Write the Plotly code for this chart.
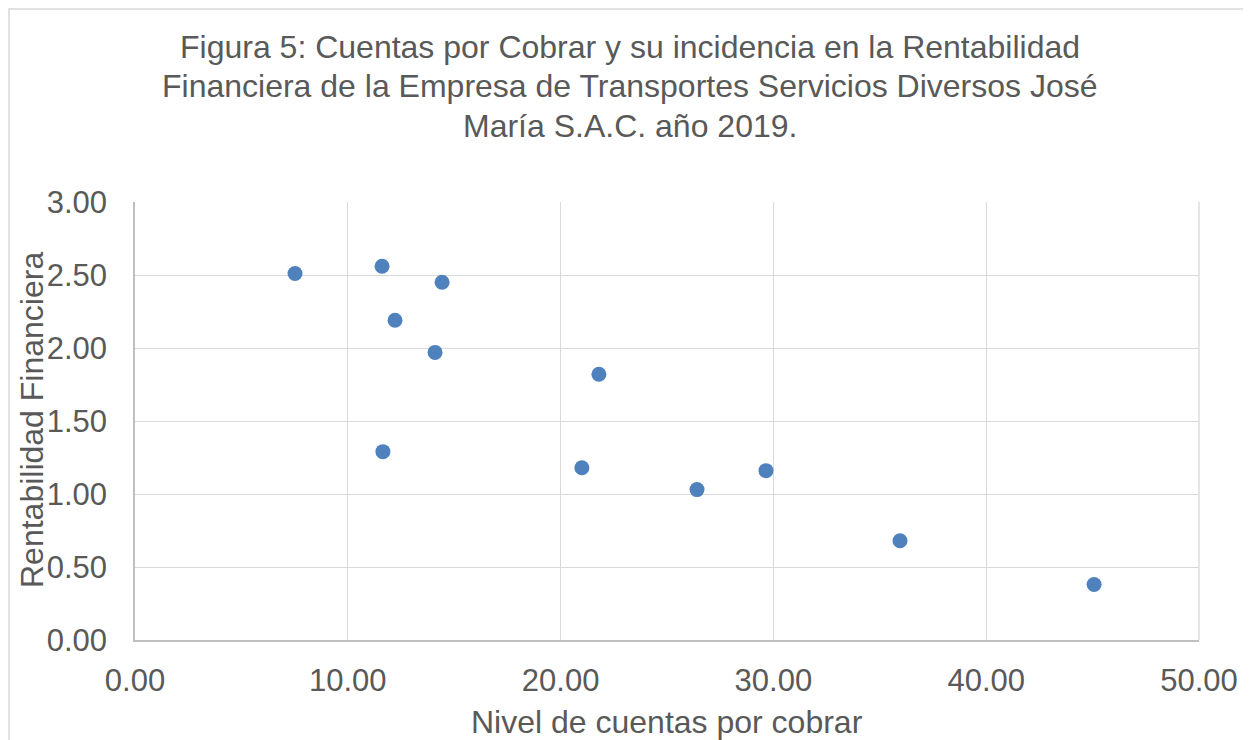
import plotly.graph_objects as go

# Data
nivel_cxc = [7.52, 11.61, 14.43, 12.22, 14.10, 21.80, 11.65, 21.00, 26.41, 29.65, 35.95, 45.07]
rentabilidad = [2.51, 2.56, 2.45, 2.19, 1.97, 1.82, 1.29, 1.18, 1.03, 1.16, 0.68, 0.38]

x_ticks = [0, 10, 20, 30, 40, 50]
y_ticks = [0, 0.5, 1.0, 1.5, 2.0, 2.5, 3.0]

title_lines = [
    "Figura 5: Cuentas por Cobrar y su incidencia en la Rentabilidad",
    "Financiera de la Empresa de Transportes Servicios Diversos José",
    "María S.A.C. año 2019.",
]
x_title = "Nivel de cuentas por cobrar"
y_title = "Rentabilidad Financiera"

FONT = "Liberation Sans, Arial, sans-serif"
GREY = "#595959"

# page body adds an 8px offset; figure coordinates below are in figure pixels
W, H = 1243, 732
L, T = 127, 194
R = W - 1191
B = H - 632
pw, ph = W - L - R, H - T - B


def px(x):
    return (x - L) / pw


def py(y):
    return (H - B - y) / ph


fig = go.Figure(
    go.Scatter(
        x=nivel_cxc, y=rentabilidad, mode="markers",
        marker=dict(size=15, color="#4f81bd", line=dict(width=0)),
        showlegend=False,
    )
)

annotations = []
for i, line in enumerate(title_lines):
    annotations.append(dict(
        text=line, xref="paper", yref="paper", x=px(W / 2 + 0.5), y=py(39 + 39.5 * i),
        xanchor="center", yanchor="middle", showarrow=False,
        font=dict(size=32, color=GREY, family=FONT),
    ))
annotations.append(dict(
    text=x_title, xref="paper", yref="paper", x=px(659), y=py(714),
    xanchor="center", yanchor="middle", showarrow=False,
    font=dict(size=32, color=GREY, family=FONT),
))
annotations.append(dict(
    text=y_title, xref="paper", yref="paper", x=px(24), y=py(412),
    xanchor="center", yanchor="middle", showarrow=False, textangle=-90,
    font=dict(size=32, color=GREY, family=FONT),
))

fig.update_layout(
    width=W, height=H,
    margin=dict(l=L, r=R, t=T, b=B, autoexpand=False),
    paper_bgcolor="white", plot_bgcolor="white",
    font=dict(family=FONT, color=GREY),
    xaxis=dict(
        range=[0, 50], tickvals=x_ticks, ticktext=[f"{v:.2f}" for v in x_ticks],
        showgrid=True, gridcolor="#d9d9d9", gridwidth=1.3,
        showline=True, linecolor="#bfbfbf", linewidth=1.5,
        zeroline=False, ticks="outside", ticklen=12, tickcolor="rgba(0,0,0,0)",
        tickfont=dict(size=31, color=GREY), automargin=False,
    ),
    yaxis=dict(
        range=[0, 3], tickvals=y_ticks, ticktext=[f"{v:.2f}" for v in y_ticks],
        showgrid=True, gridcolor="#d9d9d9", gridwidth=1.3,
        showline=True, linecolor="#bfbfbf", linewidth=1.5,
        zeroline=False, ticks="outside", ticklen=20, tickcolor="rgba(0,0,0,0)",
        tickfont=dict(size=31, color=GREY), automargin=False,
    ),
    annotations=annotations,
    shapes=[
        dict(type="rect", xref="paper", yref="paper",
             x0=px(1), x1=px(1239), y0=py(760), y1=py(1),
             line=dict(color="#d9d9d9", width=1.5), fillcolor="rgba(0,0,0,0)", layer="below"),
        dict(type="line", xref="paper", yref="paper", x0=1, x1=1, y0=0, y1=1,
             line=dict(color="#d9d9d9", width=1.3)),
    ],
)

fig.write_html("out.html")
